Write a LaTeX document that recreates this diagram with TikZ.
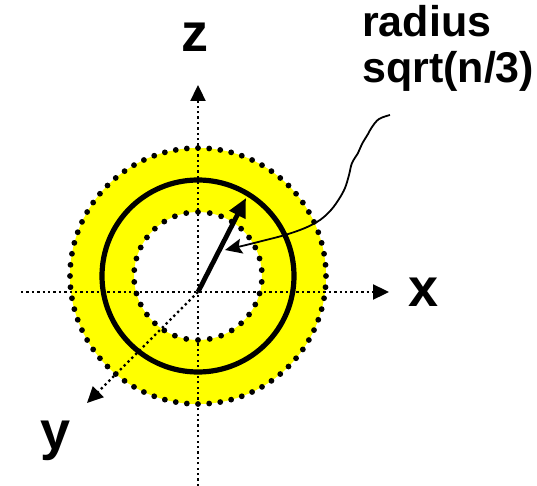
\documentclass[tikz,border=0pt]{standalone}
\usepackage{fontspec}
\setmainfont{Liberation Sans}
\usepackage{xcolor}
\usepackage{tikz}
\usetikzlibrary{arrows.meta,positioning,calc}
\definecolor{shellyellow}{RGB}{255, 255, 0}
\tikzset{
  axisline/.style={
    line width=2.3pt,
    dash pattern=on 2.3pt off 3.1pt,
    -{Triangle[length=16pt, width=15pt]}
  },
  axislabel/.style={
    inner sep=0pt,
    font=\fontsize{54}{60}\selectfont\bfseries
  },
  shelldot/.style={
    fill=black,
    draw=none
  },
  radiusarrow/.style={
    line width=4.8pt,
    -{Triangle[length=19pt, width=17pt]}
  },
  pointerarrow/.style={
    line width=1.8pt,
    -{Stealth[length=17pt, width=15pt, inset=3pt]}
  }
}

\begin{document}
\begin{tikzpicture}[x=1pt, y=-1pt]
  \useasboundingbox (0,0) rectangle (537,486);
  \coordinate (o) at (198,292);
  \coordinate (c) at (198,276);
  \coordinate (xstart) at (21,292);
  \coordinate (xend) at (389,292);
  \coordinate (zbot) at (198,486);
  \coordinate (ztop) at (198,85);
  \coordinate (yend) at (87,403);
  \coordinate (rtip) at (246,198);
  \coordinate (pstart) at (390,115);

  % yellow shell
  \fill[shellyellow, even odd rule] (c) circle (128) (c) circle (64);

  % axes
  \draw[axisline] (xstart) -- (xend);
  \draw[axisline] (zbot) -- (ztop);
  \draw[axisline] (o) -- (yend);

  \node[axislabel, right=19pt of xend] (xlab) {x};
  \node[axislabel] (zlab) at (195,37) {z};
  \node[axislabel] (ylab) at (56,441) {y};

  % dotted shell borders
  \foreach \i in {0,...,71}
    \fill[shelldot] ($(c)+(90+360/72*\i:128)$) circle (2.9);
  \foreach \i in {0,...,33}
    \fill[shelldot] ($(c)+(90+360/34*\i:64)$) circle (2.9);

  \draw[line width=5.2pt] (c) circle (96);
  \draw[radiusarrow] (o) -- (rtip);

  \node[anchor=north west, inner sep=0pt, align=left,
        font=\fontsize{43}{46}\selectfont\bfseries] (radlab) at (362,5) {radius\\sqrt(n/3)};

  \draw[pointerarrow] plot[smooth, tension=0.6] coordinates {(pstart) (379,119) (372,127) (368,134) (362,144) (358,153) (352,163) (349,175) (345,188) (339,199) (331,210) (320,220) (305,228) (285,235) (262,241) (242,246) (225,250)};
\end{tikzpicture}
\end{document}
